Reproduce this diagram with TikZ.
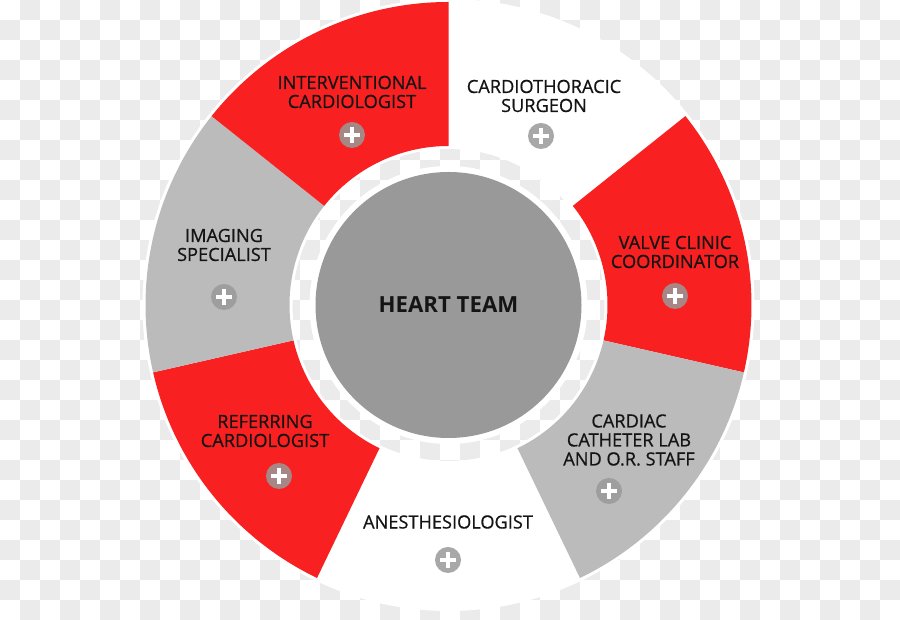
\documentclass[tikz,border=0pt]{standalone}
\usepackage{fontspec}
\setmainfont{Open Sans}
\newfontfamily\lblfont{Open Sans}[FakeBold=0.7]
\usetikzlibrary{calc}
\definecolor{hred}{RGB}{248,32,32}
\definecolor{hgray}{RGB}{187,187,187}
\definecolor{cgray}{RGB}{153,153,153}
\definecolor{chk}{RGB}{235,235,235}
\definecolor{ink}{RGB}{20,20,20}
\tikzset{
  lbl/.style={text=ink, align=center, font=\lblfont\fontsize{18.2}{19}\selectfont, inner sep=0},
  plusbtn/.style={circle, fill=cgray, fill opacity=.85, minimum size=26, inner sep=0,
    path picture={\draw[white, line width=4]
      ([xshift=-8]path picture bounding box.center) -- ([xshift=8]path picture bounding box.center)
      ([yshift=-8]path picture bounding box.center) -- ([yshift=8]path picture bounding box.center);}},
}
\newcommand{\sector}[3]{% start angle, end angle, colour
  \fill[#3] ([shift={(#1:159)}]C) arc[start angle=#1, end angle=#2, radius=159]
    -- ([shift={(#2:303)}]C) arc[start angle=#2, end angle=#1, radius=303] -- cycle;}
\begin{document}
\begin{tikzpicture}[x=1pt,y=1pt]
\useasboundingbox (0,0) rectangle (900,620);
\begin{scope}
\clip (0,0) rectangle (900,620);
\fill[white] (0,0) rectangle (900,620);
\foreach \j in {0,...,30}{
  \pgfmathtruncatemacro\off{mod(\j+1,2)}
  \foreach \i in {0,...,22}{
    \pgfmathsetmacro\xx{20*(2*\i+\off)}
    \fill[chk] (\xx,600-20*\j) rectangle ++(20,20);
  }
}
\end{scope}
\coordinate (C) at (448.5,315);
\fill[white,even odd rule] (C) circle (306) (C) circle (156);
\sector{38.5714}{-12.8571}{hred}
\sector{-12.8571}{-64.2857}{hgray}
\sector{-115.7143}{-167.1429}{hred}
\sector{-167.1429}{-218.5714}{hgray}
\sector{-218.5714}{-270}{hred}
\fill[white] (C) circle (139);
\fill[cgray] (C) circle (133);
\node[text=ink, font=\bfseries\fontsize{22.2}{24}\selectfont, inner sep=0] (ht) at (448.5,315) {HEART TEAM};
\node[lbl] (l1) at (352,528) {INTERVENTIONAL\\CARDIOLOGIST};
\node[lbl] (l2) at (544,524) {CARDIOTHORACIC\\SURGEON};
\node[lbl] (l3) at (675,368) {VALVE CLINIC\\COORDINATOR};
\node[lbl] (l4) at (629,180) {CARDIAC\\CATHETER LAB\\AND O.R. STAFF};
\node[lbl] (l5) at (448,98) {ANESTHESIOLOGIST};
\node[lbl] (l6) at (265,189) {REFERRING\\CARDIOLOGIST};
\node[lbl] (l7) at (224,375) {IMAGING\\SPECIALIST};
\node[plusbtn] (p1) at (352,485) {};
\node[plusbtn] (p2) at (541,484) {};
\node[plusbtn] (p3) at (675,324) {};
\node[plusbtn] (p4) at (609,129) {};
\node[plusbtn] (p5) at (448,60) {};
\node[plusbtn] (p6) at (279,144) {};
\node[plusbtn] (p7) at (224,323) {};
\end{tikzpicture}
\end{document}
